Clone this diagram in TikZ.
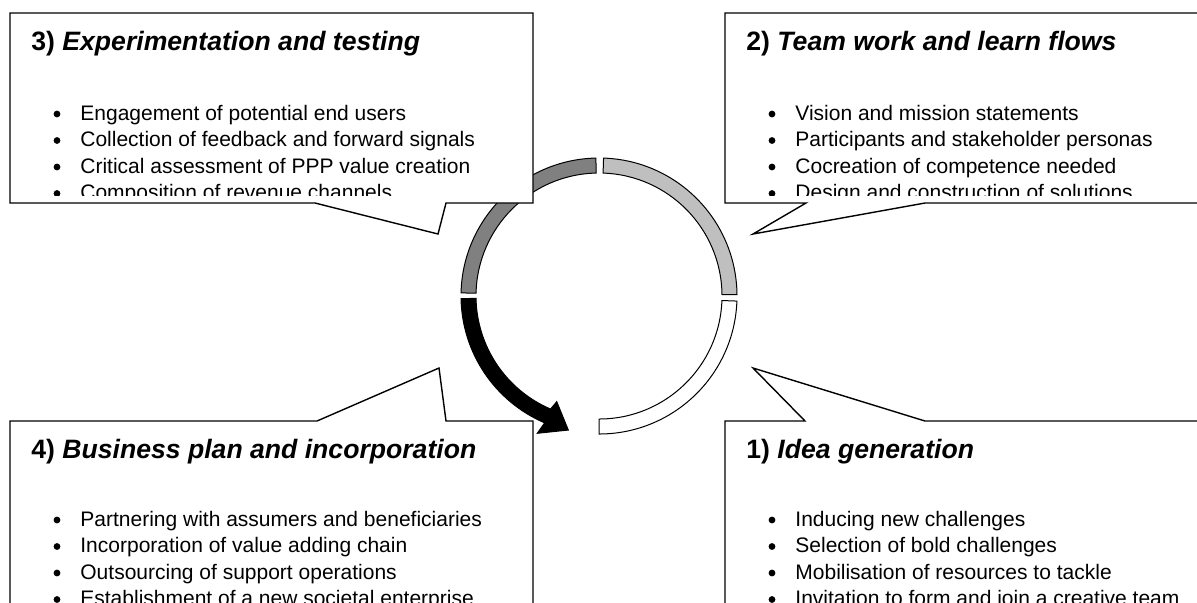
\documentclass[tikz,border=0pt]{standalone}
\usepackage{fontspec}
\setmainfont{Liberation Sans}
\begin{document}
\begin{tikzpicture}[x=0.5pt,y=-0.5pt,
  box/.style={draw=black, line width=0.7pt, fill=white, line join=miter},
  seg/.style={draw=black, line width=0.5pt},
  ttl/.style={anchor=base west, inner sep=0pt, font=\fontsize{13.3}{15}\selectfont\bfseries},
  itm/.style={anchor=base west, inner sep=0pt, font=\fontsize{10.5}{12}\selectfont},
  dot/.style={fill=black}]
\useasboundingbox (0,0) rectangle (1197,602);
\clip (0,0) rectangle (1197,602);
% cycle
\begin{scope}[shift={(599,296)}, yscale=-1]
  \draw[seg, fill=black!50] (91.3:138) arc[start angle=91.3, end angle=178.7, radius=138]
     -- (178.7:123) arc[start angle=178.7, end angle=91.3, radius=123] -- cycle;
  \draw[seg, fill=black!25] (0.6:138) arc[start angle=0.6, end angle=88.1, radius=138]
     -- (88.1:123) arc[start angle=88.1, end angle=0.6, radius=123] -- cycle;
  \draw[seg, fill=white] (-2.1:138) arc[start angle=-2.1, end angle=-90, radius=138]
     -- (-90:123) arc[start angle=-90, end angle=-2.1, radius=123] -- cycle;
  \draw[seg, fill=black] (181.1:138) arc[start angle=181.1, end angle=246.8, radius=138]
     -- (245.8:150.5) -- (257.1:137.5) -- (248.2:113.8) -- (246.8:123)
     arc[start angle=246.8, end angle=181.1, radius=123] -- cycle;
\end{scope}
% callouts
\draw[box] (10,13) -- (533,13) -- (533,203) -- (446,203) -- (438,234) -- (315,203) -- (10,203) -- cycle;
\draw[box] (725,13) -- (1215,13) -- (1215,203) -- (925,203) -- (753,234) -- (806,203) -- (725,203) -- cycle;
\draw[box] (10,421) -- (317,421) -- (439,368) -- (446,421) -- (533,421) -- (533,620) -- (10,620) -- cycle;
\draw[box] (725,421) -- (805,421) -- (753,368) -- (925,421) -- (1215,421) -- (1215,620) -- (725,620) -- cycle;
% box 3
\begin{scope}
  \clip (10,13) rectangle (533,195);
  \node[ttl] (t3) at (31,50) {3) \textit{Experimentation and testing}};
  \foreach \y/\t [count=\i] in {120/Engagement of potential end users,
      146.5/Collection of feedback and forward signals,
      173/Critical assessment of PPP value creation,
      199.5/Composition of revenue channels}{
    \fill[dot] (57,\y-6) circle[radius=3.4];
    \node[itm] (b3\i) at (80,\y) {\t};
  }
\end{scope}
% box 2
\begin{scope}
  \clip (725,13) rectangle (1197,195);
  \node[ttl] (t2) at (746,50) {2) \textit{Team work and learn flows}};
  \foreach \y/\t [count=\i] in {120/Vision and mission statements,
      146.5/Participants and stakeholder personas,
      173/Cocreation of competence needed,
      199.5/Design and construction of solutions}{
    \fill[dot] (772,\y-6) circle[radius=3.4];
    \node[itm] (b2\i) at (795,\y) {\t};
  }
\end{scope}
% box 4
\begin{scope}
  \clip (10,421) rectangle (533,602);
  \node[ttl] (t4) at (31,458) {4) \textit{Business plan and incorporation}};
  \foreach \y/\t [count=\i] in {526/Partnering with assumers and beneficiaries,
      552.5/Incorporation of value adding chain,
      579/Outsourcing of support operations,
      605.5/Establishment of a new societal enterprise}{
    \fill[dot] (57,\y-6) circle[radius=3.4];
    \node[itm] (b4\i) at (80,\y) {\t};
  }
\end{scope}
% box 1
\begin{scope}
  \clip (725,421) rectangle (1197,602);
  \node[ttl] (t1) at (746,458) {1) \textit{Idea generation}};
  \foreach \y/\t [count=\i] in {526/Inducing new challenges,
      552.5/Selection of bold challenges,
      579/Mobilisation of resources to tackle,
      605.5/Invitation to form and join a creative team}{
    \fill[dot] (772,\y-6) circle[radius=3.4];
    \node[itm] (b1\i) at (795,\y) {\t};
  }
\end{scope}
\end{tikzpicture}
\end{document}
